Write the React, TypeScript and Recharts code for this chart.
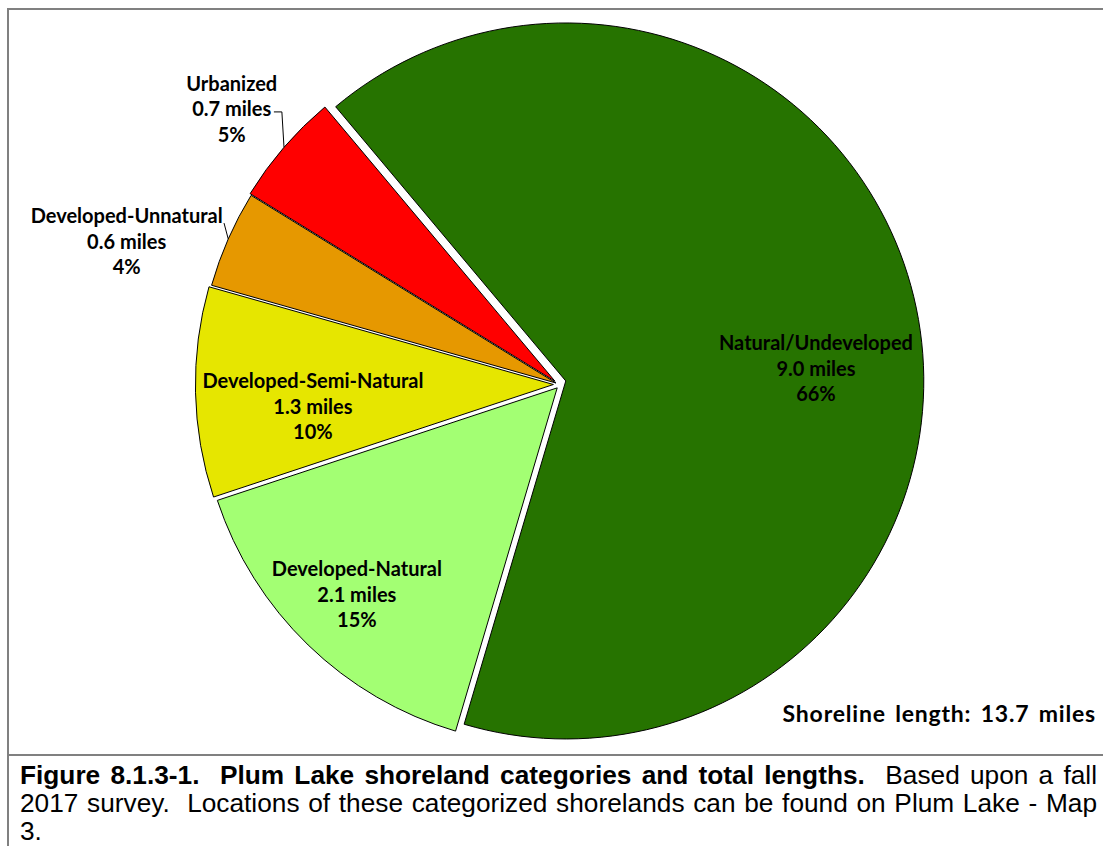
import React from 'react';
import { PieChart, Pie, Cell } from 'recharts';

const categories = ['Natural/Undeveloped', 'Developed-Natural', 'Developed-Semi-Natural', 'Developed-Unnatural', 'Urbanized'];
const milesValues = [9.0, 2.1, 1.3, 0.6, 0.7];
const milesText = ['9.0 miles', '2.1 miles', '1.3 miles', '0.6 miles', '0.7 miles'];
const percentText = ['66%', '15%', '10%', '4%', '5%'];
const sliceColors = ['#267300', '#A3FF73', '#E6E600', '#E69800', '#FF0000'];
const totalText = 'Shoreline length: 13.7 miles';
const captionBold = 'Figure 8.1.3-1.\u00a0 Plum Lake shoreland categories and total lengths.';
const captionLine1Rest = '\u00a0 Based upon a fall';
const captionLine2 = '2017 survey.\u00a0 Locations of these categorized shorelands can be found on Plum Lake - Map';
const captionLine3 = '3.';

// layout
const CX = 556;
const CY = 383;
const R = 358;
const START = 130;
const explodeDist = [10, 5, 3, 0, 2];
const explodeDir: (number | null)[] = [null, -76, -150, null, 120];
const labelLayout = [
  { r: 250.5, shift: -8.9 },
  { r: 288, shift: 0 },
  { r: 241.5, shift: 4.0 },
  { r: 452, shift: 5.5, elbowR: 368.5, elbowShift: -2.0, tail: 0 },
  { r: 422.6, shift: 0.7, elbowR: 383.6, elbowShift: -3.8, tail: -8 },
];

const data = categories.map((name, i) => ({ name, value: milesValues[i] }));
const total = milesValues.reduce((a, b) => a + b, 0);
let cum = 0;
const midAngles = milesValues.map((v) => {
  const start = START - (360 * cum) / total;
  cum += v;
  return start - (180 * v) / total;
});

const polar = (cx: number, cy: number, r: number, angle: number) => {
  const rad = (angle * Math.PI) / 180;
  return { x: cx + r * Math.cos(rad), y: cy - r * Math.sin(rad) };
};

const LABEL_FONT = 'Lato, "Open Sans", sans-serif';

const renderLabel = (p: any, i: number) => {
  if (p.index !== i) return null;
  const spec: any = labelLayout[i];
  const base = { x: p.cx, y: p.cy };
  const pos = polar(base.x, base.y, spec.r, p.midAngle + spec.shift);
  const y0 = pos.y + 7;
  const lines = [categories[i], milesText[i], percentText[i]];
  let leader = null;
  if (spec.elbowR) {
    const a = polar(p.cx, p.cy, p.outerRadius, p.midAngle);
    const b = polar(p.cx, p.cy, spec.elbowR, p.midAngle + spec.elbowShift);
    const pts = [a, b];
    if (spec.tail) pts.push({ x: b.x + spec.tail, y: b.y });
    leader = (
      <polyline
        points={pts.map((q) => `${q.x},${q.y}`).join(' ')}
        fill="none"
        stroke="#000"
        strokeWidth={1}
      />
    );
  }
  return (
    <g key={`lbl-${i}`}>
      {leader}
      <text
        textAnchor="middle"
        fontFamily={LABEL_FONT}
        fontWeight={700}
        fontSize={20}
        fill="#000"
      >
        {lines.map((t, k) => (
          <tspan key={k} x={pos.x} y={y0 + (k - 1) * 25.5}>
            {t}
          </tspan>
        ))}
      </text>
    </g>
  );
};

const CAP_SCALE = 1.05;

export default function App() {
  return (
    <div
      style={{
        position: 'absolute',
        left: 0,
        top: 0,
        width: 1103,
        height: 846,
        overflow: 'hidden',
        background: '#fff',
      }}
    >
      {/* frame */}
      <div style={{ position: 'absolute', left: 7, top: 8, width: 1200, height: 2, background: '#808080' }} />
      <div style={{ position: 'absolute', left: 7, top: 8, width: 2, height: 900, background: '#808080' }} />
      <div style={{ position: 'absolute', left: 7, top: 754, width: 1200, height: 2, background: '#808080' }} />

      <div style={{ position: 'absolute', left: 0, top: 0 }}>
        <PieChart width={1103} height={754} margin={{ top: 0, right: 0, bottom: 0, left: 0 }}>
          {data.map((_, i) => {
            const dir = explodeDir[i] ?? midAngles[i];
            const rad = (dir * Math.PI) / 180;
            const cx = CX + explodeDist[i] * Math.cos(rad);
            const cy = CY - explodeDist[i] * Math.sin(rad);
            return (
              <Pie
                key={i}
                data={data}
                dataKey="value"
                nameKey="name"
                cx={cx}
                cy={cy}
                outerRadius={R}
                innerRadius={0}
                startAngle={START}
                endAngle={START - 360}
                isAnimationActive={false}
                labelLine={false}
                label={(p: any) => renderLabel(p, i)}
              >
                {data.map((__, j) => (
                  <Cell
                    key={j}
                    fill={j === i ? sliceColors[j] : 'none'}
                    stroke={j === i ? '#000' : 'none'}
                    strokeWidth={1}
                  />
                ))}
              </Pie>
            );
          })}
        </PieChart>
      </div>

      <svg
        width={1103}
        height={754}
        style={{ position: 'absolute', left: 0, top: 0, pointerEvents: 'none' }}
      >
        <text
          x={1096}
          y={722}
          textAnchor="end"
          fontFamily={LABEL_FONT}
          fontWeight={700}
          fontSize={23}
          letterSpacing={0.8}
          wordSpacing={3}
          fill="#000"
        >
          {totalText}
        </text>
      </svg>

      <div
        style={{
          position: 'absolute',
          left: 20,
          top: 761,
          width: 1077 / CAP_SCALE,
          transform: `scaleX(${CAP_SCALE})`,
          transformOrigin: '0 0',
          fontFamily: '"Liberation Sans", Arial, sans-serif',
          fontSize: 25,
          lineHeight: '28px',
          color: '#000',
        }}
      >
        <div style={{ textAlign: 'justify', textAlignLast: 'justify' as any, whiteSpace: 'nowrap' }}>
          <b>{captionBold}</b>
          {captionLine1Rest}
        </div>
        <div style={{ textAlign: 'justify', textAlignLast: 'justify' as any, whiteSpace: 'nowrap' }}>{captionLine2}</div>
        <div>{captionLine3}</div>
      </div>
    </div>
  );
}
